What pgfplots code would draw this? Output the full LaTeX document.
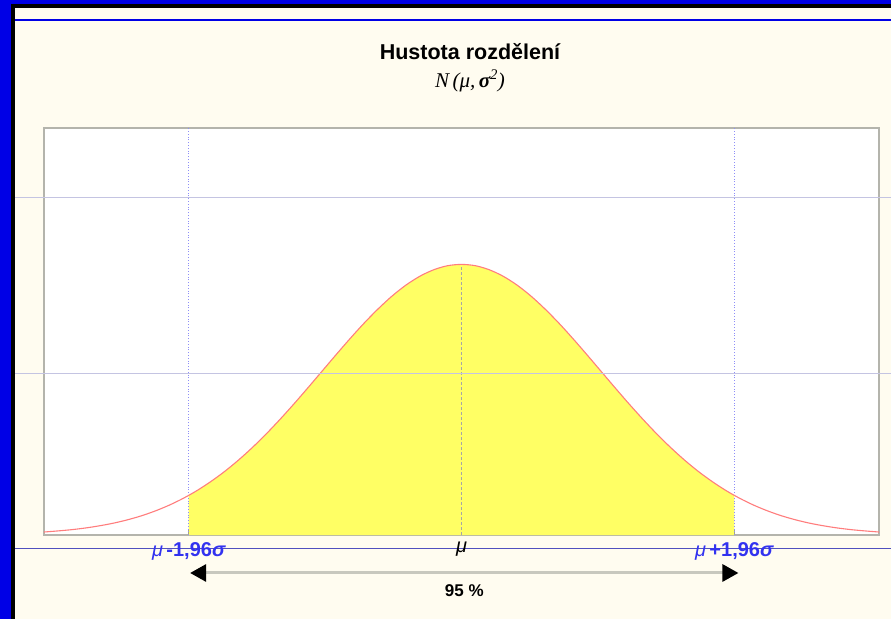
\documentclass[border=0pt]{standalone}
\usepackage{pgfplots}
\pgfplotsset{compat=1.18}
\usetikzlibrary{arrows.meta}
\usepackage{fontspec}
\setmainfont{Liberation Sans}
\newfontfamily\seriff{Liberation Serif}
\definecolor{cream}{RGB}{255,252,240}
\definecolor{bord}{RGB}{0,0,230}
\definecolor{lav}{RGB}{196,196,226}
\definecolor{lowline}{RGB}{80,80,190}
\definecolor{labblue}{RGB}{50,50,240}
\definecolor{curvecol}{RGB}{255,125,125}
\definecolor{fillyel}{RGB}{255,255,100}
\definecolor{framecol}{RGB}{180,180,172}
\definecolor{arrowgray}{RGB}{200,200,190}
\begin{document}
\begin{tikzpicture}[x=1pt,y=1pt]
\useasboundingbox (0,0) rectangle (891,619);
\fill[cream] (0,0) rectangle (891,619);
\fill[bord] (0,0) rectangle (11,619);
\fill[bord] (0,615) rectangle (891,619);
\fill[black] (11,0) rectangle (15,615);
\fill[black] (11,611) rectangle (891,615);
\draw[bord, line width=1.5pt] (15,599) -- (891,599);
\draw[lowline, line width=0.8pt] (15,71) -- (891,71);
\node[font=\fontsize{21.5}{24}\selectfont\bfseries] at (470,567) {Hustota rozdělení};
\node[font=\fontsize{21}{23}\selectfont] at (470,538) {{\seriff\itshape N\,(μ,\,{\bfseries σ}\textsuperscript{2})}};
\begin{axis}[
  at={(0pt,0pt)}, anchor=south west, xshift=44pt, yshift=84pt,
  scale only axis, width=835pt, height=407pt,
  xmin=-3, xmax=3, ymin=0, ymax=0.6,
  clip=false,
  ytick=\empty,
  xtick={-1.96,-1,0,1,1.96},
  xticklabels={{\textcolor{labblue}{\itshape μ\,\upshape\bfseries -1,96\itshape σ}}, {}, {\itshape μ}, {}, {\textcolor{labblue}{\itshape μ\,\upshape\bfseries +1,96\itshape σ}}},
  xticklabel style={font=\fontsize{20}{22}\selectfont, inner sep=1pt, yshift=-6pt},
  tick align=inside, xtick pos=bottom,
  major tick length=5pt,
  tick style={draw=gray, line width=0.7pt},
  axis line style={draw=framecol, line width=1.6pt},
  axis background/.style={fill=white},
]
\addplot[draw=none, fill=fillyel] coordinates {
(-1.96,0.0584) (-1.9,0.0656) (-1.8,0.0790) (-1.7,0.0940) (-1.6,0.1109) (-1.5,0.1295)
(-1.4,0.1497) (-1.3,0.1714) (-1.2,0.1942) (-1.1,0.2179) (-1.0,0.2420) (-0.9,0.2661)
(-0.8,0.2897) (-0.7,0.3123) (-0.6,0.3332) (-0.5,0.3521) (-0.4,0.3683) (-0.3,0.3814)
(-0.2,0.3910) (-0.1,0.3970) (0,0.3989) (0.1,0.3970) (0.2,0.3910) (0.3,0.3814)
(0.4,0.3683) (0.5,0.3521) (0.6,0.3332) (0.7,0.3123) (0.8,0.2897) (0.9,0.2661)
(1.0,0.2420) (1.1,0.2179) (1.2,0.1942) (1.3,0.1714) (1.4,0.1497) (1.5,0.1295)
(1.6,0.1109) (1.7,0.0940) (1.8,0.0790) (1.9,0.0656) (1.96,0.0584)} \closedcycle;
\addplot[labblue!55, dotted, line width=0.8pt] coordinates {(-1.96,0) (-1.96,0.6)};
\addplot[labblue!55, dotted, line width=0.8pt] coordinates {(1.96,0) (1.96,0.6)};
\addplot[gray!70, densely dashed, line width=0.6pt] coordinates {(0,0) (0,0.3989)};
\addplot[curvecol, line width=1.1pt, smooth] coordinates {
(-3.0,0.0044) (-2.9,0.0060) (-2.8,0.0079) (-2.7,0.0104) (-2.6,0.0136) (-2.5,0.0175)
(-2.4,0.0224) (-2.3,0.0283) (-2.2,0.0355) (-2.1,0.0440) (-2.0,0.0540) (-1.9,0.0656)
(-1.8,0.0790) (-1.7,0.0940) (-1.6,0.1109) (-1.5,0.1295) (-1.4,0.1497) (-1.3,0.1714)
(-1.2,0.1942) (-1.1,0.2179) (-1.0,0.2420) (-0.9,0.2661) (-0.8,0.2897) (-0.7,0.3123)
(-0.6,0.3332) (-0.5,0.3521) (-0.4,0.3683) (-0.3,0.3814) (-0.2,0.3910) (-0.1,0.3970)
(0,0.3989) (0.1,0.3970) (0.2,0.3910) (0.3,0.3814) (0.4,0.3683) (0.5,0.3521)
(0.6,0.3332) (0.7,0.3123) (0.8,0.2897) (0.9,0.2661) (1.0,0.2420) (1.1,0.2179)
(1.2,0.1942) (1.3,0.1714) (1.4,0.1497) (1.5,0.1295) (1.6,0.1109) (1.7,0.0940)
(1.8,0.0790) (1.9,0.0656) (2.0,0.0540) (2.1,0.0440) (2.2,0.0355) (2.3,0.0283)
(2.4,0.0224) (2.5,0.0175) (2.6,0.0136) (2.7,0.0104) (2.8,0.0079) (2.9,0.0060)
(3.0,0.0044)};
\draw[arrowgray, line width=3pt, {Triangle[length=16pt,width=17pt,color=black,fill=black]}-{Triangle[length=16pt,width=17pt,color=black,fill=black]}]
  (axis cs:-1.95,-0.056) -- (axis cs:1.99,-0.056);
\node[font=\fontsize{17}{19}\selectfont\bfseries] at (axis cs:0.02,-0.082) {95 \%};
\end{axis}
\draw[lav, line width=0.8pt] (15,422) -- (891,422);
\draw[lav, line width=0.8pt] (15,246) -- (891,246);
\end{tikzpicture}
\end{document}
